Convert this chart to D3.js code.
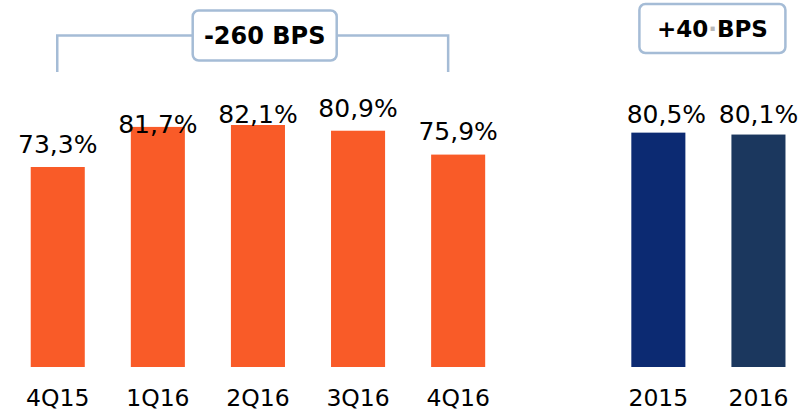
<!DOCTYPE html>
<html>
<head>
<meta charset="utf-8">
<script src="https://cdn.jsdelivr.net/npm/d3@7"></script>
<style>
	html, body { margin: 0; padding: 0; background: #fff; }
	svg text { font-family: 'DejaVu Sans', Verdana, sans-serif; fill: #000; }
</style>
</head>
<body>
<div id="chart"></div>
<script>
// data
const quarters = ['4Q15', '1Q16', '2Q16', '3Q16', '4Q16'];
const quarterValues = [73.3, 81.7, 82.1, 80.9, 75.9];
const years = ['2015', '2016'];
const yearValues = [80.5, 80.1];
const changeLabels = ['-260 BPS', '+40 BPS'];

(() => {
	const width = 811;
	const height = 412;
	const baseY = 367;

	const orange = '#f95b28';
	const yearColors = ['#0c2a72', '#1b375e'];
	const boxStroke = '#a5bcd6';

	// the labels do not sit at a constant distance over the bars
	const labelDy = [-14, 6, -2, -14, -15, -10, -12];
	const labelDx = [0, 0, 0, 0, 0, 8, 0];

	const rows = quarters.map((c, i) => ({ cat: c, value: quarterValues[i], color: orange }))
		.concat(years.map((c, i) => ({ cat: c, value: yearValues[i], color: yearColors[i] })));

	const svg = d3.select('#chart').append('svg')
		.attr('width', width)
		.attr('height', height);

	// one empty slot between quarters and years
	const slots = quarters.concat(['gap'], years);
	const x = d3.scaleBand()
		.domain(slots)
		.range([7.7, 808.5])
		.paddingInner(0.46)
		.paddingOuter(0.23);
	const y = d3.scaleLinear()
		.domain([31.4, 82.1])
		.range([baseY, 125]);
	const bw = x.bandwidth();

	// bars
	svg.selectAll('.bar')
		.data(rows)
		.enter().append('rect')
			.attr('class', 'bar')
			.attr('x', d => x(d.cat))
			.attr('y', d => y(d.value))
			.attr('width', bw)
			.attr('height', d => baseY - y(d.value))
			.style('fill', d => d.color);

	// value labels
	const fmt = v => d3.format('.1f')(v).replace('.', ',') + '%';
	svg.selectAll('.value-label')
		.data(rows)
		.enter().append('text')
			.attr('class', 'value-label')
			.attr('x', (d, i) => x(d.cat) + bw / 2 + labelDx[i])
			.attr('y', (d, i) => y(d.value) + labelDy[i])
			.attr('text-anchor', 'middle')
			.style('font-size', '25px')
			.text(d => fmt(d.value));

	// category axis
	const xAxis = d3.axisBottom(x)
		.tickSize(0)
		.tickFormat(d => d === 'gap' ? '' : d);
	const axisG = svg.append('g')
		.attr('transform', `translate(0, ${baseY})`)
		.call(xAxis);
	axisG.select('.domain').remove();
	axisG.selectAll('text')
		.attr('y', 39)
		.attr('dy', 0)
		.style('font-family', "'DejaVu Sans', Verdana, sans-serif")
		.style('font-size', '23.5px')
		.style('fill', '#000');

	// bracket over the quarters
	const bx0 = x(quarters[0]) + bw / 2 - 0.5;
	const bx1 = x(quarters[quarters.length - 1]) + bw / 2 - 10;
	svg.append('path')
		.attr('d', `M${bx0},72 V35.5 H${bx1} V72`)
		.attr('fill', 'none')
		.attr('stroke', boxStroke)
		.attr('stroke-width', 2.5);

	const drawBox = (cx, top, w, h, fontSize) => {
		svg.append('rect')
			.attr('x', cx - w / 2)
			.attr('y', top)
			.attr('width', w)
			.attr('height', h)
			.attr('rx', 6)
			.attr('fill', '#fff')
			.attr('stroke', boxStroke)
			.attr('stroke-width', 2.5);
		return svg.append('text')
			.attr('x', cx)
			.attr('y', top + h / 2 + fontSize * 0.36)
			.attr('text-anchor', 'middle')
			.style('font-size', fontSize + 'px')
			.style('font-weight', 'bold');
	};

	// change boxes
	const qMid = (bx0 + bx1) / 2 + 12;
	drawBox(qMid, 10.5, 144, 50, 24).text(changeLabels[0]);

	const yMid = (x(years[0]) + x(years[1]) + bw) / 2 + 4;
	const parts = changeLabels[1].split(' ');
	const t2 = drawBox(yMid, 4, 146, 49, 23);
	t2.append('tspan').text(parts[0]);
	t2.append('tspan').style('fill', '#b8b8b8').text('\u00b7');
	t2.append('tspan').text(parts[1]);
})();
</script>
</body>
</html>
